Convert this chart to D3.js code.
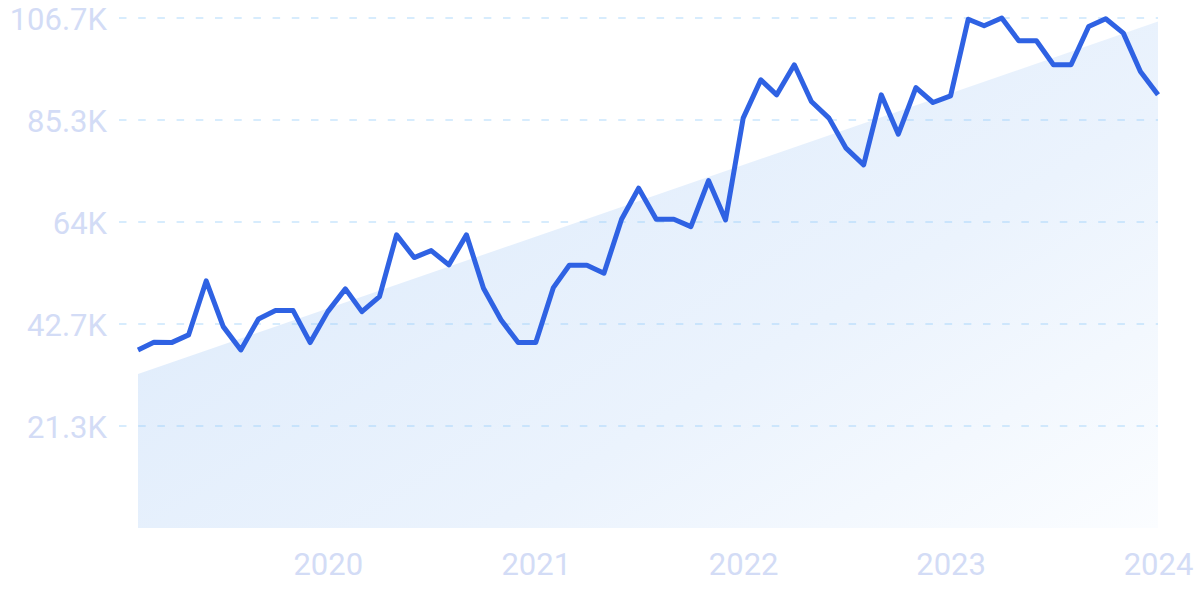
<!DOCTYPE html>
<html>
<head>
<meta charset="utf-8">
<script src="https://cdn.jsdelivr.net/npm/d3@7"></script>
<style>
  html, body { margin: 0; padding: 0; background: #ffffff; }
  svg { display: block; }
</style>
</head>
<body>
<svg id="chart" width="1200" height="600"></svg>
<script>
(function () {
// ---- Data ----
const startMonth = "2019-02";   // first monthly point
const values = [
  37240, 38850, 38770, 40380, 51670, 42110, 37240, 43720, 45460, 45460, 38770,
  45250, 50000, 45250, 48390, 61300, 56550, 58010, 55020, 61300, 50150, 43510, 38770,
  38770, 50270, 54950, 54950, 53280, 64580, 71060, 64580, 64580, 63030, 72660, 64430,
  85710, 93720, 90580, 96860, 89190, 85710, 79430, 75940, 90580, 82360, 92110, 88980, 90370,
  106400, 105020, 106650, 101880, 101880, 96860, 96860, 104870, 106500, 103490, 95460,
  90580
];
const trendValues = [32200, 105900];            // trend at first and last month
const yTickValues = [21330, 42660, 63990, 85320, 106650];
const yTickLabels = ["21.3K", "42.7K", "64K", "85.3K", "106.7K"];
const xTickYears = [2020, 2021, 2022, 2023, 2024];

// ---- Build dates ----
const parse = d3.timeParse("%Y-%m");
const t0 = parse(startMonth);
const data = values.map((v, i) => ({ date: d3.timeMonth.offset(t0, i), value: v }));
const lastDate = data[data.length - 1].date;
const trend = [
  { date: t0, value: trendValues[0] },
  { date: lastDate, value: trendValues[1] }
];

// ---- Layout ----
const svg = d3.select("#chart");
const mLeft = 138, mRight = 1158, mTop = 18, mBottom = 528;

const x = d3.scaleTime().domain([t0, lastDate]).range([mLeft, mRight]);
const y = d3.scaleLinear().domain([0, 106650]).range([mBottom, mTop]);

// gradient
const defs = svg.append("defs");
const grad = defs.append("linearGradient")
  .attr("id", "areaGrad")
  .attr("x1", "0").attr("y1", "0.2").attr("x2", "1").attr("y2", "1");
grad.append("stop").attr("offset", "0%").attr("stop-color", "#dceafb");
grad.append("stop").attr("offset", "60%").attr("stop-color", "#ebf3fd");
grad.append("stop").attr("offset", "100%").attr("stop-color", "#fbfdff");

// trend area
const area = d3.area()
  .x(d => x(d.date))
  .y0(y(0))
  .y1(d => y(d.value));
svg.append("path")
  .datum(trend)
  .attr("d", area)
  .attr("fill", "url(#areaGrad)");

// gridlines
const grid = svg.append("g").attr("class", "grid");
grid.selectAll("line")
  .data(yTickValues)
  .join("line")
  .attr("x1", 119).attr("x2", mRight)
  .attr("y1", d => y(d)).attr("y2", d => y(d))
  .attr("stroke", "rgb(150,205,250)")
  .attr("stroke-opacity", 0.5)
  .attr("stroke-width", 1.5)
  .attr("stroke-dasharray", "7.5,11.7");

// y axis labels
const yAxis = d3.axisLeft(y)
  .tickValues(yTickValues)
  .tickFormat((d, i) => yTickLabels[i])
  .tickSize(0)
  .tickPadding(0);
const gy = svg.append("g")
  .attr("transform", "translate(107,0)")
  .call(yAxis);
gy.select(".domain").remove();
gy.selectAll("text")
  .attr("fill", "#d3dcf6")
  .attr("font-family", "Roboto, 'Open Sans', sans-serif")
  .attr("font-size", 31)
  .attr("dy", "0.36em");

// x axis labels
const xAxis = d3.axisBottom(x)
  .tickValues(xTickYears.map(yr => new Date(yr, 0, 1)))
  .tickFormat(d3.timeFormat("%Y"))
  .tickSize(0)
  .tickPadding(0);
const gx = svg.append("g")
  .attr("transform", "translate(0,564)")
  .call(xAxis);
gx.select(".domain").remove();
gx.selectAll("text")
  .attr("fill", "#d3dcf6")
  .attr("font-family", "Roboto, 'Open Sans', sans-serif")
  .attr("font-size", 31)
  .attr("dy", "0.36em");

// line
const line = d3.line()
  .x(d => x(d.date))
  .y(d => y(d.value));
svg.append("path")
  .datum(data)
  .attr("d", line)
  .attr("fill", "none")
  .attr("stroke", "#2f62e3")
  .attr("stroke-width", 5)
  .attr("stroke-linejoin", "round")
  .attr("stroke-linecap", "butt");
})();
</script>
</body>
</html>
